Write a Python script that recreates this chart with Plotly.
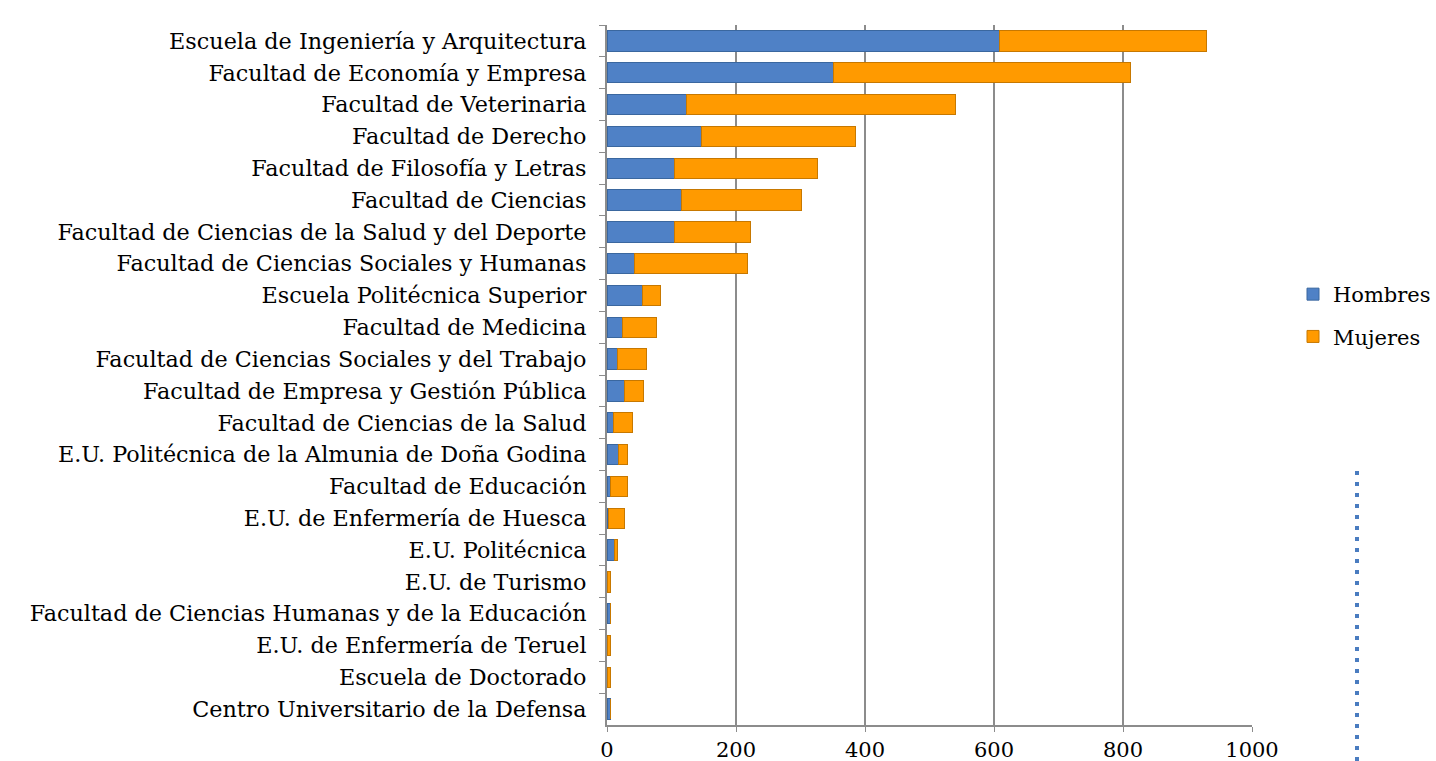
import plotly.graph_objects as go

categorias = [
    "Escuela de Ingeniería y Arquitectura",
    "Facultad de Economía y Empresa",
    "Facultad de Veterinaria",
    "Facultad de Derecho",
    "Facultad de Filosofía y Letras",
    "Facultad de Ciencias",
    "Facultad de Ciencias de la Salud y del Deporte",
    "Facultad de Ciencias Sociales y Humanas",
    "Escuela Politécnica Superior",
    "Facultad de Medicina",
    "Facultad de Ciencias Sociales y del Trabajo",
    "Facultad de Empresa y Gestión Pública",
    "Facultad de Ciencias de la Salud",
    "E.U. Politécnica de la Almunia de Doña Godina",
    "Facultad de Educación",
    "E.U. de Enfermería de Huesca",
    "E.U. Politécnica",
    "E.U. de Turismo",
    "Facultad de Ciencias Humanas y de la Educación",
    "E.U. de Enfermería de Teruel",
    "Escuela de Doctorado",
    "Centro Universitario de la Defensa",
]
hombres = [608, 351, 124, 147, 104, 116, 104, 43, 55, 24, 16, 27, 10, 18, 6, 3, 11, 1, 5, 1, 0, 5]
mujeres = [322, 461, 416, 238, 222, 186, 118, 175, 28, 52, 46, 29, 29, 13, 25, 24, 6, 5, 1, 5, 5, 0]
ticks_x = [0, 200, 400, 600, 800, 1000]

W, H = 1436, 761
L, R, T, B = 607, 184, 25, 36
FONT = "DejaVu Serif"

fig = go.Figure()
fig.add_trace(go.Bar(y=categorias, x=hombres, name="Hombres", orientation="h", legendgroup="h",
                     marker=dict(color="#4F81C6", line=dict(color="#3A679F", width=1))))
fig.add_trace(go.Bar(y=categorias, x=mujeres, name="Mujeres", orientation="h", legendgroup="m",
                     marker=dict(color="#FF9A00", line=dict(color="#C77800", width=1))))

n = len(categorias)
fig.update_layout(
    width=W, height=H,
    barmode="stack", bargap=0.36,
    margin=dict(l=L, r=R, t=T, b=B, pad=0, autoexpand=False),
    plot_bgcolor="white", paper_bgcolor="white",
    font=dict(family=FONT, size=22, color="black"),
    legend=dict(xref="container", yref="container", x=1293 / W, y=1 - 274 / H,
                xanchor="left", yanchor="top", font=dict(family=FONT, size=21),
                itemwidth=30, tracegroupgap=12, traceorder="grouped"),
    shapes=[dict(type="line", xref="paper", yref="paper",
                 x0=(1357 - L) / (W - L - R), x1=(1357 - L) / (W - L - R),
                 y0=-(B) / (H - T - B), y1=(H - 465 - B) / (H - T - B),
                 line=dict(color="#4A7CC0", width=4, dash="4px,7px"))],
)
fig.update_xaxes(range=[0, 1000], tickvals=ticks_x, ticktext=[str(t) for t in ticks_x],
                 showgrid=True, gridcolor="#8C8C8C", gridwidth=2, automargin=False,
                 showline=True, linecolor="#8C8C8C", linewidth=2,
                 ticks="outside", ticklen=5, tickcolor="#8C8C8C",
                 tickfont=dict(family=FONT, size=21), zeroline=False)
fig.update_yaxes(range=[n - 0.5, -0.5], showline=True, linecolor="#8C8C8C", linewidth=2,
                 automargin=False, ticklabelstandoff=14,
                 ticks="outside", ticklen=6, tickcolor="#8C8C8C", tickson="boundaries",
                 tickfont=dict(family=FONT, size=22.3), showgrid=False)

fig.write_html("out.html", config={"displayModeBar": False},
               post_script="document.body.style.margin='0';document.body.style.overflow='hidden';")
